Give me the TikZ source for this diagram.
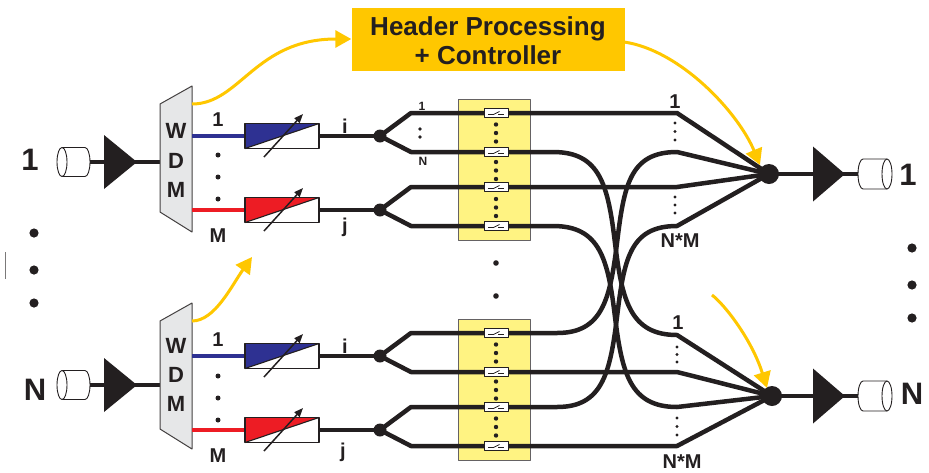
\documentclass[tikz,border=0pt]{standalone}
\usepackage{fontspec}
\setmainfont{Liberation Sans}
\usetikzlibrary{arrows.meta}
\definecolor{gold}{RGB}{255,199,0}
\definecolor{panelyel}{RGB}{255,243,130}
\definecolor{wdmgray}{RGB}{230,231,232}
\definecolor{cblue}{RGB}{46,49,146}
\definecolor{cred}{RGB}{237,28,36}
\definecolor{ink}{RGB}{35,31,32}
\begin{document}
\begin{tikzpicture}[x=1pt,y=-1pt,line join=round,
  fib/.style={draw=ink,line width=4.5pt},
  ctrl/.style={draw=gold,line width=3pt,-{Triangle[length=16pt,width=17pt]}},
  lbl/.style={text=ink,font=\bfseries\fontsize{20}{20}\selectfont,inner sep=0pt},
  sml/.style={text=ink,font=\bfseries\fontsize{12}{12}\selectfont,inner sep=0pt},
  big/.style={text=ink,font=\bfseries\fontsize{31}{31}\selectfont,inner sep=0pt},
  wdml/.style={text=ink,font=\bfseries\fontsize{22}{22}\selectfont,inner sep=0pt},
  convbox/.style={draw=ink,line width=1.3pt},
  swbox/.style={draw=ink,fill=white,line width=0.8pt,minimum width=24pt,minimum height=8.5pt,inner sep=0pt},
  amp/.style={fill=ink},
  cyl/.style={draw=ink,fill=white,line width=0.9pt},
  wdm/.style={draw=ink!85,fill=wdmgray,line width=1pt},
  panel/.style={draw=ink!70,fill=panelyel,line width=0.8pt},
]
\useasboundingbox (0,0) rectangle (929,472);

% ---------- coordinates ----------
\coordinate (sp1) at (380,136);
\coordinate (sp2) at (380,210);
\coordinate (sp3) at (380,356);
\coordinate (sp4) at (380,430);
\coordinate (o1) at (769,174);
\coordinate (o2) at (772,396);

% ---------- header ----------
\node[fill=gold,minimum width=273pt,minimum height=63pt,inner sep=0pt] (hdr) at (488,39.5) {};
\node[text=ink,font=\bfseries\fontsize{26}{29}\selectfont,align=center,inner sep=0pt] (hdrtxt) at (488,41) {Header Processing\\+ Controller};

% ---------- switch panels ----------
\draw[panel] (458,99) rectangle (530,240);
\draw[panel] (458,319) rectangle (530,460);

% ---------- input sides ----------
\foreach \cy in {162,385}{
  \draw[fib,line width=4pt] (80,\cy) -- (160,\cy);
  \fill[amp] (104,\cy-27) -- (137,\cy) -- (104,\cy+27) -- cycle;
  \draw[cyl] (62,\cy-14.5) -- (85,\cy-14.5) arc[start angle=-90,end angle=90,x radius=5,y radius=14.5] -- (62,\cy+14.5) -- cycle;
  \draw[cyl] (62,\cy) ellipse [x radius=5,y radius=14.5];
}
\draw[wdm] (160,104) -- (192,86) -- (192,232) -- (160,212) -- cycle;
\draw[wdm] (160,321) -- (192,303) -- (192,449) -- (160,429) -- cycle;
\node[wdml] (w1) at (176,131) {W};
\node[wdml] (d1) at (176,160.5) {D};
\node[wdml] (m1) at (176,190) {M};
\node[wdml] (w2) at (176,346) {W};
\node[wdml] (d2) at (176,375) {D};
\node[wdml] (m2) at (176,404) {M};

% colored wavelength lines
\draw[cblue,line width=4pt] (192,136) -- (245,136);
\draw[cred,line width=4pt] (192,210) -- (245,210);
\draw[cblue,line width=4pt] (192,356) -- (245,356);
\draw[cred,line width=4pt] (192,430) -- (245,430);

% wavelength converters
\foreach \cy/\col in {136/cblue,210/cred,356/cblue,430/cred}{
  \draw[fib] (319,\cy) -- (380,\cy);
  \fill[\col] (245,\cy-12.5) -- (319,\cy-12.5) -- (245,\cy+12.5) -- cycle;
  \draw[ink,line width=1.1pt] (245,\cy+12.5) -- (319,\cy-12.5);
  \draw[convbox] (245,\cy-12.5) rectangle (319,\cy+12.5);
  \draw[ink,line width=1.5pt,-{Triangle[length=9pt,width=7pt]}] (264,\cy+21) -- (303,\cy-22);
}

% ---------- fibers through the switch ----------
\draw[fib] (sp1) -- (411,113) -- (677,113) -- (o1);
\draw[fib] (sp1) -- (411,152) -- (553,152) .. controls (600,152) and (608,185) .. (615,243) .. controls (622,300) and (630,335) .. (677,335) -- (o2);
\draw[fib] (sp2) -- (411,187) -- (677,187) -- (o1);
\draw[fib] (sp2) -- (411,226) -- (553,226) .. controls (600,226) and (608,259) .. (615,317) .. controls (622,373) and (630,407) .. (677,407) -- (o2);
\draw[fib] (sp3) -- (411,333) -- (557,333) .. controls (602,333) and (610,300) .. (617,243) .. controls (624,185) and (630,152) .. (677,152) -- (o1);
\draw[fib] (sp3) -- (411,372) -- (677,372) -- (o2);
\draw[fib] (sp4) -- (411,407) -- (557,407) .. controls (602,407) and (610,374) .. (617,317) .. controls (624,259) and (630,226) .. (677,226) -- (o1);
\draw[fib] (sp4) -- (411,446) -- (677,446) -- (o2);

% splitter dots
\foreach \p in {sp1,sp2,sp3,sp4}{\fill[ink] (\p) circle (6.5);}

% switch elements
\foreach \y [count=\k] in {113,152,187,226,333,372,407,446}{
  \node[swbox] (sw\k) at (496,\y) {};
  \draw[ink,line width=0.7pt] (488,\y+1.5) -- (493.5,\y+1.5) -- (499.5,\y-1.5);
  \draw[ink,line width=0.7pt] (498,\y+1.5) -- (504,\y+1.5);
}
% dots inside panels
\foreach \m in {133,170.5,207.5,353,390,427}{
  \foreach \d in {-8.5,0,8.5}{\fill[ink] (496,\m+\d) circle (2.2);}
}
% dots between panels
\foreach \y in {263,296}{\fill[ink] (496,\y) circle (2.8);}

% ---------- outputs ----------
\foreach \o/\cy in {o1/174,o2/396}{
  \draw[fib,line width=4pt] (\o) -- (858,\cy);
  \fill[amp] (813,\cy-27.5) -- (845,\cy) -- (813,\cy+27.5) -- cycle;
  \draw[cyl] (887,\cy-15) -- (863,\cy-15) arc[start angle=-90,end angle=-270,x radius=5,y radius=15] -- (887,\cy+15) -- cycle;
  \draw[cyl] (887,\cy) ellipse [x radius=5,y radius=15];
  \fill[ink] (\o) circle (10);
}

% ---------- small dots ----------
\foreach \y in {155,177,199,376,398,420}{\fill[ink] (218,\y) circle (2.5);}
\foreach \y in {129,137}{\fill[ink] (420,\y) circle (1.8);}
\foreach \y in {123,131.5,140,197,205,213}{\fill[ink] (675,\y) circle (1.6);}
\foreach \y in {347,354.5,362,418,426.5,435}{\fill[ink] (677,\y) circle (1.6);}
\foreach \y in {233,270,303}{\fill[ink] (34,\y) circle (4.6);}
\foreach \y in {248,285,318}{\fill[ink] (912,\y) circle (4.6);}
\draw[ink!60,line width=0.7pt] (5,252) -- (5,279);

% ---------- labels ----------
\node[big] (in1) at (30,160) {1};
\node[big] (inN) at (35,390) {N};
\node[big] (out1) at (908,174.5) {1};
\node[big] (outN) at (912,394) {N};
\node[lbl] (la1) at (218,120) {1};
\node[lbl] (laM) at (218,236) {M};
\node[lbl] (lb1) at (218,340) {1};
\node[lbl] (lbM) at (218,456) {M};
\node[lbl] (lai) at (345,126) {i};
\node[lbl] (laj) at (345,227) {j};
\node[lbl] (lbi) at (345,346) {i};
\node[lbl] (lbj) at (343,452) {j};
\node[sml] (s1) at (422,106) {1};
\node[sml] (sN) at (423,161) {N};
\node[lbl] (r1) at (675,102) {1};
\node[lbl] (rNM) at (680,241) {N*M};
\node[lbl] (r2) at (678,323) {1};
\node[lbl] (rNM2) at (682,462) {N*M};

% ---------- control arrows ----------
\draw[ctrl] (192,104) .. controls (240,104) and (255,39) .. (hdr.west |- 0,39);
\draw[ctrl] (624,42) .. controls (680,50) and (738,112) .. (760,165);
\draw[ctrl] (192,321) .. controls (215,321) and (232,285) .. (252,257);
\draw[ctrl] (712,295) .. controls (725,305) and (752,340) .. (767,388);
\end{tikzpicture}
\end{document}
